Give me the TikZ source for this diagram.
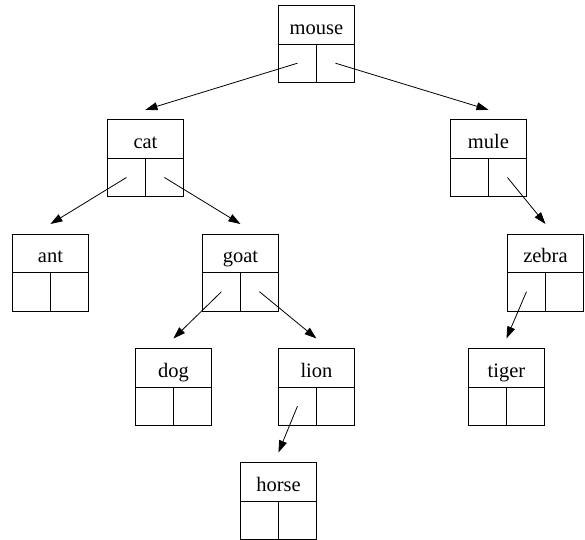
\documentclass[tikz,border=0pt]{standalone}
\usepackage{fontspec}
\setmainfont{Liberation Serif}
\usetikzlibrary{arrows.meta}
\tikzset{
  cellbox/.style={draw=black, line width=0.9pt, inner sep=0pt, anchor=north west},
  headcell/.style={cellbox, minimum width=76pt, minimum height=38.5pt,
    text height=29pt, text depth=9.5pt, font=\fontsize{20.5}{24}\selectfont},
  subcell/.style={cellbox, minimum width=38pt, minimum height=38.5pt},
  link/.style={line width=0.8pt, -{Triangle[length=12pt,width=8pt]}, shorten >=0pt}
}
\newcommand{\animalrec}[4]{%
  \node[headcell] (#1-t) at (#3pt,-#4pt) {#2};
  \node[subcell] (#1-l) at (#3pt,-#4pt-38.5pt) {};
  \node[subcell] (#1-r) at (#3pt+38pt,-#4pt-38.5pt) {};
}
\begin{document}
\begin{tikzpicture}
\useasboundingbox (0pt,0pt) rectangle (585pt,-539pt);
\animalrec{mouse}{mouse}{278}{5}
\animalrec{cat}{cat}{107}{119.3}
\animalrec{mule}{mule}{450}{119.3}
\animalrec{ant}{ant}{12}{233.5}
\animalrec{goat}{goat}{202}{233.5}
\animalrec{zebra}{zebra}{507}{233.5}
\animalrec{dog}{dog}{135}{348}
\animalrec{lion}{lion}{278}{348}
\animalrec{tiger}{tiger}{468}{348}
\animalrec{horse}{horse}{240}{462}
\draw[link] (mouse-l.center) -- ([yshift=9.5pt]cat-t.north);
\draw[link] (mouse-r.center) -- ([yshift=9.5pt]mule-t.north);
\draw[link] (cat-l.center) -- ([yshift=9.5pt]ant-t.north);
\draw[link] (cat-r.center) -- ([yshift=9.5pt]goat-t.north);
\draw[link] (mule-r.center) -- ([yshift=9.5pt]zebra-t.north);
\draw[link] (goat-l.center) -- ([yshift=9.5pt]dog-t.north);
\draw[link] (goat-r.center) -- ([yshift=9.5pt]lion-t.north);
\draw[link] (zebra-l.center) -- ([yshift=9.5pt]tiger-t.north);
\draw[link] (lion-l.center) -- ([yshift=9.5pt]horse-t.north);
\end{tikzpicture}
\end{document}
